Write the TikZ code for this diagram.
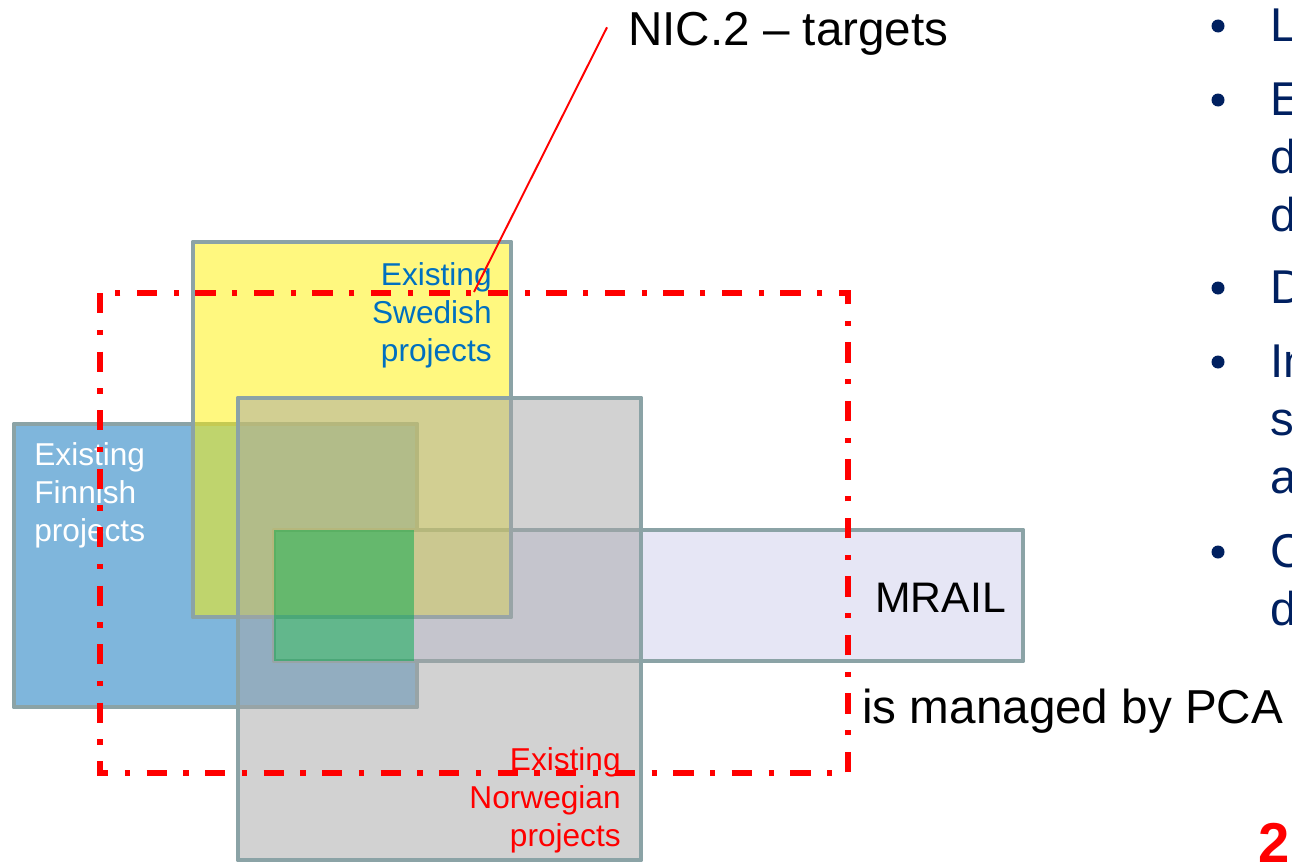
\documentclass[tikz,border=0pt]{standalone}
\usepackage{fontspec}
\setmainfont{Liberation Sans}

\definecolor{boxline}{RGB}{139,163,166}
\definecolor{finblue}{RGB}{127,182,220}
\definecolor{mrailbg}{RGB}{230,230,245}
\definecolor{norgray}{RGB}{166,166,166}
\definecolor{overlapgreen}{RGB}{0,170,76}
\definecolor{swetext}{RGB}{0,112,192}
\definecolor{navy}{RGB}{0,32,96}

\begin{document}
\begin{tikzpicture}[x=0.02cm,y=-0.02cm,
    projbox/.style={draw=boxline, line width=2.83pt, line join=round},
    targetbox/.style={draw=red, line width=2.9pt,
      dash pattern=on 11.6pt off 9.4pt on 2.9pt off 9.4pt},
    bigtext/.style={font=\fontsize{27.1}{32}\selectfont},
    labeltext/.style={font=\fontsize{18}{21.8}\selectfont},
    bullettext/.style={font=\fontsize{27}{32.9}\selectfont, text=navy}]

      \useasboundingbox (0,0) rectangle (1292,862);

      % project boxes
      \path[projbox, fill=finblue] (14,424) rectangle (417,707);
      \path[projbox, fill=mrailbg] (274,530) rectangle (1023,661);
      \path[projbox, fill=yellow, fill opacity=.5] (193,242) rectangle (511,617);
      \path[projbox, fill=norgray, fill opacity=.5] (238,398) rectangle (641,860);
      \fill[overlapgreen, opacity=.5] (274,530) rectangle (414,661);

      \begin{scope}[every node/.style={inner sep=0pt}]
        \node[labeltext, anchor=north east, align=right, text=swetext] (swe) at (492,262) {Existing\\Swedish\\projects};
        \node[labeltext, anchor=north west, align=left, text=white] (fin) at (34,442) {Existing\\Finnish\\projects};
        \node[labeltext, anchor=north east, align=right, text=red] (nor) at (621,747) {Existing\\Norwegian\\projects};
        \node[font=\fontsize{24.3}{29}\selectfont, anchor=base west] (mrail) at (875,612) {MRAIL};
        \node[bigtext, anchor=base west] (pca) at (862,723) {is managed by PCA};
        \node[bigtext, anchor=base west, inner xsep=11.9pt] (nic) at (607,45) {NIC.2 – targets};
        \node[font=\fontsize{32}{38}\selectfont\bfseries, text=red, anchor=base west] (page) at (1258,862) {2};
      \end{scope}

      % targets
      \draw[targetbox] (100,293) rectangle (848,773);

      \coordinate (nicpin) at (474,292);
      \draw[red, line width=1.1pt] ([yshift=3.4pt]nic.west) -- (nicpin);

      % bullets
      \begin{scope}[every node/.style={circle, fill=navy, inner sep=0pt, minimum size=7.4pt}]
        \node (dot1) at (1218,26)  {};
        \node (dot2) at (1218,100) {};
        \node (dot3) at (1218,288) {};
        \node (dot4) at (1218,362) {};
        \node (dot5) at (1218,552) {};
      \end{scope}

      \begin{scope}[every node/.style={bullettext, inner sep=0pt, anchor=north west, align=left}]
        \node (item1) at (1270,9)   {L};
        \node (item2) at (1270,83)  {E\\d\\d};
        \node (item3) at (1270,271) {D};
        \node (item4) at (1270,345) {In\\s\\a};
        \node (item5) at (1270,534) {C\\d};
      \end{scope}

    \end{tikzpicture}
\end{document}
